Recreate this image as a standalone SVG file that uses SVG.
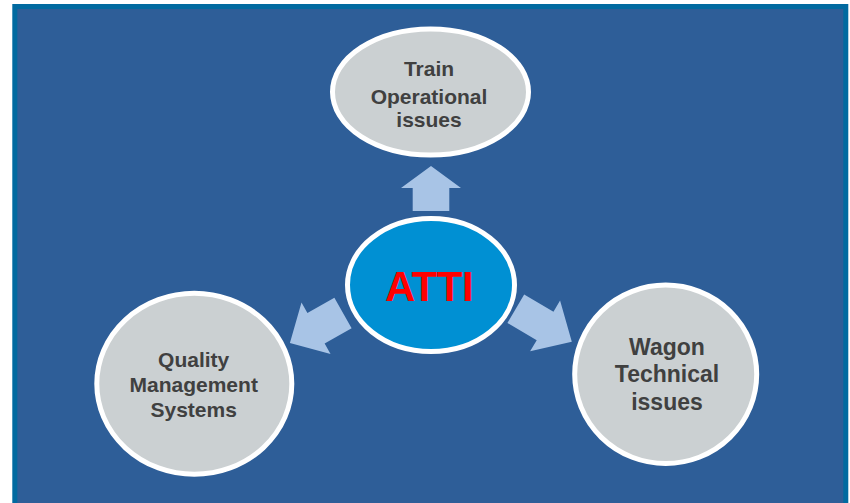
<svg xmlns="http://www.w3.org/2000/svg" width="850" height="503" viewBox="0 0 850 503">
<style>
.node{fill:#CBD0D2;stroke:#FFFFFF;stroke-width:5}
.lbl{font-family:"Liberation Sans",Arial,sans-serif;font-weight:bold;fill:#404040;text-anchor:middle}
.arrow{fill:#A8C4E6}
</style>
<rect x="0" y="0" width="850" height="503" fill="#FFFFFF"/>
<rect x="14.8" y="6.5" width="831" height="520" fill="#2E5E98" stroke="#016AA0" stroke-width="5"/>
<g id="connectors">
<path class="arrow" d="M0,-18.3 L23,-18.3 L23,-30 L45,0 L23,30 L23,18.3 L0,18.3 Z" transform="translate(431,211) rotate(-90)"/>
<path class="arrow" d="M0,-16.5 L34,-16.5 L34,-29.5 L65,0 L34,29.5 L34,16.5 L0,16.5 Z" transform="translate(515.8,308.7) rotate(30.5)"/>
<path class="arrow" d="M0,-17.5 L31,-17.5 L31,-29.5 L61,0 L31,29.5 L31,17.5 L0,17.5 Z" transform="translate(343,313) rotate(150.5)"/>
</g>
<g id="center">
<ellipse cx="431" cy="285" rx="83.5" ry="66.5" fill="#0090D3" stroke="#FFFFFF" stroke-width="5"/>
<text x="429" y="300.7" font-family="'Liberation Sans',Arial,sans-serif" font-weight="bold" font-size="42" fill="#FF0000" text-anchor="middle" letter-spacing="-0.5">ATTI</text>
</g>
<g id="train">
<ellipse class="node" cx="430.5" cy="92" rx="98" ry="63" stroke-width="4"/>
<text class="lbl" font-size="21" x="429" y="75.7">Train</text>
<text class="lbl" font-size="21" x="429" y="104.3">Operational</text>
<text class="lbl" font-size="21" x="429" y="127">issues</text>
</g>
<g id="quality">
<ellipse class="node" cx="194.3" cy="383.8" rx="97.5" ry="90.5"/>
<text class="lbl" font-size="21" x="193.7" y="367.3">Quality</text>
<text class="lbl" font-size="21" x="193.7" y="392">Management</text>
<text class="lbl" font-size="21" x="193.7" y="417">Systems</text>
</g>
<g id="wagon">
<ellipse class="node" cx="665.7" cy="374.3" rx="91" ry="89.2"/>
<text class="lbl" font-size="23" x="667" y="355">Wagon</text>
<text class="lbl" font-size="23" x="667" y="382.3">Technical</text>
<text class="lbl" font-size="23" x="667" y="410">issues</text>
</g>
</svg>
